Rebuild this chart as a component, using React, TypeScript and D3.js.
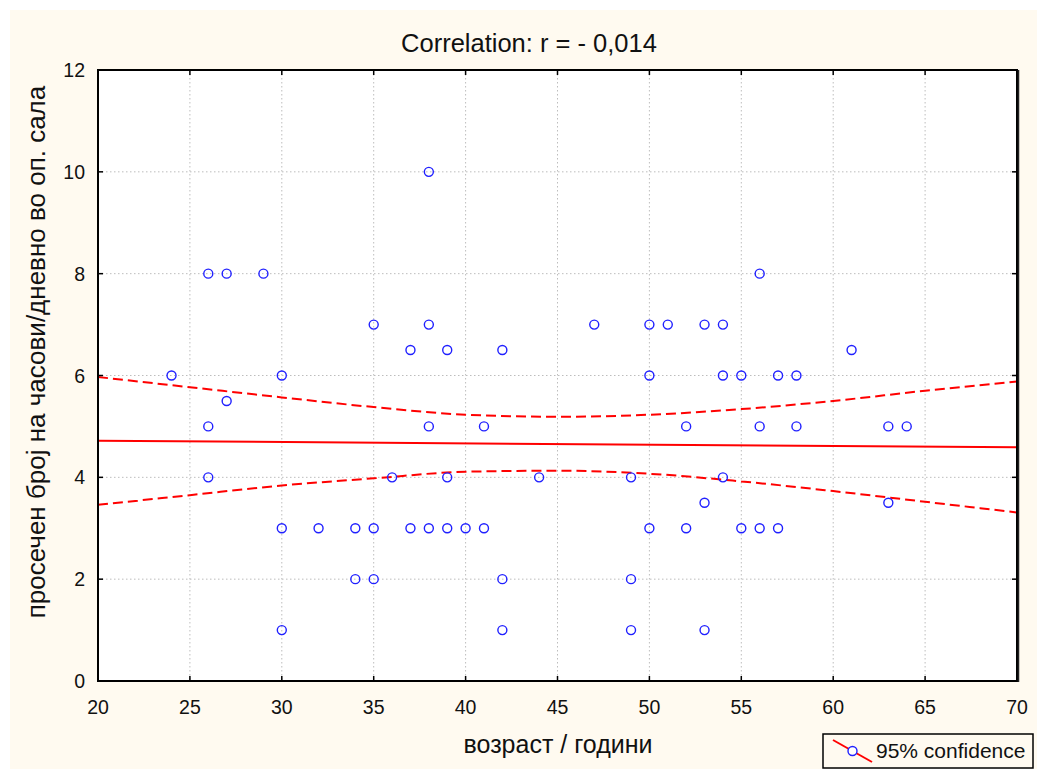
import React from "react";
import * as d3 from "d3";

const ages = [24,26,27,29,26,27,26,30,30,30,32,34,35,34,35,35,37,38,38,38,39,39,36,37,38,39,40,41,41,42,42,42,44,47,49,49,49,50,50,50,51,52,52,53,53,53,54,54,54,55,55,56,56,56,57,57,58,58,61,63,64,63];
const hours = [6,8,8,8,5,5.5,4,6,3,1,3,3,3,2,2,7,6.5,7,10,5,6.5,4,4,3,3,3,3,3,5,6.5,2,1,4,7,4,2,1,7,6,3,7,5,3,7,3.5,1,7,6,4,6,3,8,5,3,6,3,6,5,6.5,5,5,3.5];

const bandX = [20,25,30,35,40,45,50,55,60,65,70];
const bandUpper = [5.97,5.77,5.57,5.38,5.23,5.19,5.23,5.34,5.50,5.70,5.88];
const bandLower = [3.46,3.65,3.84,3.98,4.11,4.13,4.07,3.92,3.73,3.52,3.31];

const fitX = [20, 70];
const fitY = [4.72, 4.59];

const xTicks = [20,25,30,35,40,45,50,55,60,65,70];
const yTicks = [0,2,4,6,8,10,12];

const title = "Correlation: r = - 0,014";
const xTitle = "возраст / години";
const yTitle = "просечен број на часови/дневно во оп. сала";
const legendLabel = "95% confidence";

export default function App() {
  const W = 1037, H = 769;
  const L = 98, R = 1017, T = 70, B = 681;
  const x = d3.scaleLinear().domain([20, 70]).range([L, R]);
  const y = d3.scaleLinear().domain([0, 12]).range([B, T]);
  const font = "'Liberation Sans', Arial, sans-serif";
  const line = d3.line<[number, number]>().x(d => x(d[0])).y(d => y(d[1]));
  const curve = d3.line<[number, number]>().x(d => x(d[0])).y(d => y(d[1])).curve(d3.curveMonotoneX);
  const upper = bandX.map((v, i) => [v, bandUpper[i]] as [number, number]);
  const lower = bandX.map((v, i) => [v, bandLower[i]] as [number, number]);
  const fit = fitX.map((v, i) => [v, fitY[i]] as [number, number]);
  const blue = "#2020ff";
  return (
    <svg width={W} height={H} style={{ position: "absolute", left: 0, top: 0 }} fontFamily={font}>
      <rect x={0} y={0} width={W} height={H} fill="#ffffff" />
      <rect x={10} y={10} width={W - 10} height={H - 10} fill="#fffaf0" />
      <rect x={L} y={T} width={R - L} height={B - T} fill="#ffffff" />
      {xTicks.slice(1, -1).map(t => (
        <line key={"gx" + t} x1={x(t)} x2={x(t)} y1={T} y2={B} stroke="#bdbdbd" strokeWidth={1} strokeDasharray="1.5,2.5" />
      ))}
      {yTicks.slice(1, -1).map(t => (
        <line key={"gy" + t} x1={L} x2={R} y1={y(t)} y2={y(t)} stroke="#bdbdbd" strokeWidth={1} strokeDasharray="1.5,2.5" />
      ))}
      <path d={curve(upper) || ""} fill="none" stroke="#ff0000" strokeWidth={2} strokeDasharray="10,5" />
      <path d={curve(lower) || ""} fill="none" stroke="#ff0000" strokeWidth={2} strokeDasharray="10,5" />
      <path d={line(fit) || ""} fill="none" stroke="#ff0000" strokeWidth={2} />
      {ages.map((a, i) => (
        <circle key={"p" + i} cx={x(a)} cy={y(hours[i])} r={4.5} fill="none" stroke={blue} strokeWidth={1.4} />
      ))}
      {xTicks.map(t => (
        <g key={"tx" + t}>
          <line x1={x(t)} x2={x(t)} y1={B} y2={B - 5} stroke="#000" strokeWidth={1.5} />
          <line x1={x(t)} x2={x(t)} y1={T} y2={T + 5} stroke="#000" strokeWidth={1.5} />
          <text x={x(t)} y={714} textAnchor="middle" fontSize={19.5} fill="#111">{t}</text>
        </g>
      ))}
      {yTicks.map(t => (
        <g key={"ty" + t}>
          <line x1={L} x2={L + 5} y1={y(t)} y2={y(t)} stroke="#000" strokeWidth={1.5} />
          <line x1={R} x2={R - 5} y1={y(t)} y2={y(t)} stroke="#000" strokeWidth={1.5} />
          <text x={85} y={y(t) + 7} textAnchor="end" fontSize={19.5} fill="#111">{t}</text>
        </g>
      ))}
      <rect x={L} y={T} width={R - L} height={B - T} fill="none" stroke="#000" strokeWidth={2} />
      <line x1={R + 1.5} x2={R + 1.5} y1={T} y2={B + 1} stroke="#222" strokeWidth={1.5} />
      <text x={529} y={52} textAnchor="middle" fontSize={25.5} fill="#111">{title}</text>
      <text x={558} y={753} textAnchor="middle" fontSize={25} fill="#111">{xTitle}</text>
      <text transform={`translate(45,352) rotate(-90)`} textAnchor="middle" fontSize={26} fill="#111">{yTitle}</text>
      <g>
        <rect x={823} y={734} width={210} height={34} fill="#fffaf0" stroke="#000" strokeWidth={1.5} />
        <line x1={833} y1={740} x2={872} y2={762} stroke="#ff0000" strokeWidth={2} />
        <circle cx={852.5} cy={751} r={4.5} fill="#ffffff" stroke={blue} strokeWidth={1.4} />
        <text x={876} y={758} fontSize={21} fill="#111">{legendLabel}</text>
      </g>
    </svg>
  );
}
